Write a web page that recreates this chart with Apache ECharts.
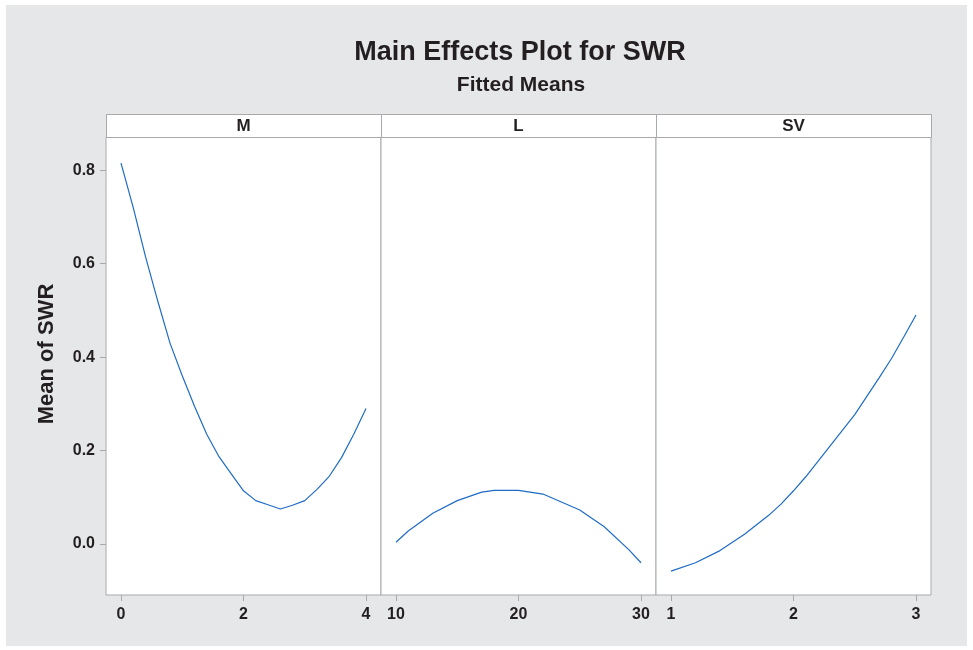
<!DOCTYPE html>
<html>
<head>
<meta charset="utf-8">
<script src="https://cdn.jsdelivr.net/npm/echarts@6/dist/echarts.min.js"></script>
<style>
html,body{margin:0;padding:0;background:#fff;}
#c{width:973px;height:650px;}
</style>
</head>
<body>
<div id="c"></div>
<script>
// ---- data ----
const panelNames = ['M', 'L', 'SV'];

const mLevels = [0, 0.2, 0.4, 0.6, 0.8, 1.0, 1.2, 1.4, 1.6, 1.8, 2.0, 2.2, 2.4, 2.6, 2.8, 3.0, 3.2, 3.4, 3.6, 3.8, 4.0];
const mMeans  = [0.815, 0.72, 0.615, 0.52, 0.43, 0.36, 0.295, 0.235, 0.187, 0.15, 0.114, 0.093, 0.084, 0.075, 0.083, 0.093, 0.117, 0.145, 0.185, 0.235, 0.29];

const lLevels = [10, 11, 13, 15, 17, 18, 20, 22, 25, 27, 29, 30];
const lMeans  = [0.004, 0.028, 0.066, 0.093, 0.111, 0.115, 0.115, 0.107, 0.073, 0.037, -0.012, -0.040];

const svLevels = [1.0, 1.2, 1.4, 1.6, 1.8, 1.9, 2.0, 2.1, 2.5, 2.7, 2.8, 2.9, 3.0];
const svMeans  = [-0.058, -0.040, -0.014, 0.021, 0.062, 0.086, 0.114, 0.144, 0.277, 0.356, 0.397, 0.443, 0.490];

const mTicks  = [0, 2, 4];
const lTicks  = [10, 20, 30];
const svTicks = [1, 2, 3];
const yTicks  = [0.0, 0.2, 0.4, 0.6, 0.8];

const titleText = 'Main Effects Plot for SWR';
const subtitleText = 'Fitted Means';
const yName = 'Mean of SWR';

// ---- layout / style ----
const TXT = '#231f20';
const BORDER = '#a7a9ac';
const LINE = '#1f6cc4';
const FONT = 'Liberation Sans, Arial, sans-serif';
const panelLeft = [106, 381, 656];
const panelW = 275;
const plotTop = 137, plotH = 458;
const headTop = 114, headH = 23;
const yMin = -0.109, yMax = 0.871;

const panels = [
  {lv: mLevels, mn: mMeans, ticks: mTicks},
  {lv: lLevels, mn: lMeans, ticks: lTicks},
  {lv: svLevels, mn: svMeans, ticks: svTicks}
];

const grids = [], xAxes = [], yAxes = [], series = [], graphics = [];

graphics.push({
  type: 'rect', z: -10, silent: true,
  shape: {x: 6, y: 5, width: 961, height: 641},
  style: {fill: '#e6e7e9'}
});

panels.forEach((p, i) => {
  grids.push({
    left: panelLeft[i], top: plotTop, width: panelW, height: plotH,
    show: true, backgroundColor: '#fff', borderColor: BORDER, borderWidth: 1
  });
  const lo = p.ticks[0], hi = p.ticks[p.ticks.length - 1];
  const pad = (hi - lo) * 15 / 245;
  xAxes.push({
    type: 'value', gridIndex: i, min: lo - pad, max: hi + pad,
    position: 'bottom',
    axisLine: {show: false, onZero: false},
    splitLine: {show: false},
    axisTick: {show: true, length: 6, customValues: p.ticks, lineStyle: {color: BORDER}},
    axisLabel: {customValues: p.ticks, margin: 12, color: TXT, fontSize: 16, fontWeight: 'bold', fontFamily: FONT,
      formatter: v => String(Math.round(v))}
  });
  yAxes.push({
    type: 'value', gridIndex: i, min: yMin, max: yMax,
    position: 'left',
    show: i === 0,
    axisLine: {show: false, onZero: false},
    splitLine: {show: false},
    axisTick: {show: true, length: 6, customValues: yTicks, lineStyle: {color: BORDER}},
    axisLabel: {customValues: yTicks, margin: 11, color: TXT, fontSize: 16, fontWeight: 'bold', fontFamily: FONT,
      formatter: v => v.toFixed(1)}
  });
  series.push({
    type: 'line', xAxisIndex: i, yAxisIndex: i,
    data: p.lv.map((x, k) => [x, p.mn[k]]),
    showSymbol: false, symbol: 'none',
    lineStyle: {color: LINE, width: 1.2},
    animation: false
  });
  graphics.push({
    type: 'rect', silent: true,
    shape: {x: panelLeft[i] + 0.5, y: headTop + 0.5, width: panelW, height: headH},
    style: {fill: '#fff', stroke: BORDER, lineWidth: 1}
  });
  graphics.push({
    type: 'text', silent: true,
    x: panelLeft[i] + panelW / 2, y: headTop + headH / 2 + 1,
    style: {text: panelNames[i], fill: TXT, font: 'bold 17px ' + FONT, align: 'center', verticalAlign: 'middle'}
  });
});

graphics.push({
  type: 'text', silent: true, x: 520, y: 53,
  style: {text: titleText, fill: TXT, font: 'bold 27px ' + FONT, align: 'center', verticalAlign: 'middle'}
});
graphics.push({
  type: 'text', silent: true, x: 521, y: 85,
  style: {text: subtitleText, fill: TXT, font: 'bold 21px ' + FONT, align: 'center', verticalAlign: 'middle'}
});
graphics.push({
  type: 'text', silent: true, x: 47, y: 354, rotation: Math.PI / 2,
  style: {text: yName, fill: TXT, font: 'bold 22px ' + FONT, align: 'center', verticalAlign: 'middle'}
});

const chart = echarts.init(document.getElementById('c'), null, {renderer: 'canvas'});
chart.setOption({
  backgroundColor: '#fff',
  animation: false,
  grid: grids, xAxis: xAxes, yAxis: yAxes, series: series,
  graphic: graphics
});
</script>
</body>
</html>
